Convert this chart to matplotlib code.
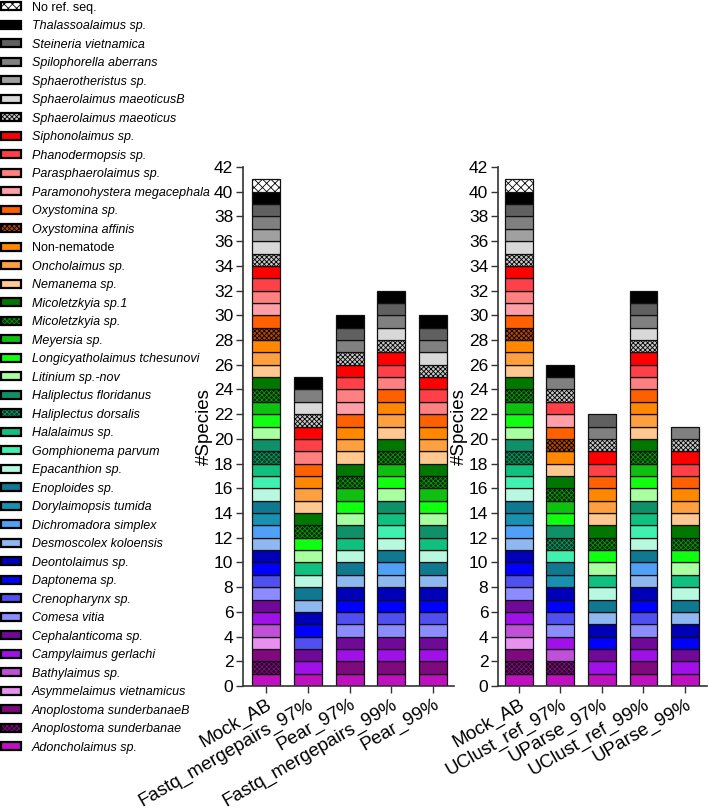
import matplotlib
matplotlib.use("Agg")
import matplotlib.pyplot as plt
from matplotlib.patches import Patch

plt.rcParams['font.family'] = ['Liberation Sans', 'DejaVu Sans']
plt.rcParams['hatch.linewidth'] = 0.6

# species, bottom of stack -> top
species = [
    "Adoncholaimus sp.", "Anoplostoma sunderbanae", "Anoplostoma sunderbanaeB",
    "Asymmelaimus vietnamicus", "Bathylaimus sp.", "Campylaimus gerlachi",
    "Cephalanticoma sp.", "Comesa vitia", "Crenopharynx sp.", "Daptonema sp.",
    "Deontolaimus sp.", "Desmoscolex koloensis", "Dichromadora simplex",
    "Dorylaimopsis tumida", "Enoploides sp.", "Epacanthion sp.",
    "Gomphionema parvum", "Halalaimus sp.", "Haliplectus dorsalis",
    "Haliplectus floridanus", "Litinium sp.-nov", "Longicyatholaimus tchesunovi",
    "Meyersia sp.", "Micoletzkyia sp.", "Micoletzkyia sp.1", "Nemanema sp.",
    "Oncholaimus sp.", "Non-nematode", "Oxystomina affinis", "Oxystomina sp.",
    "Paramonohystera megacephala", "Parasphaerolaimus sp.", "Phanodermopsis sp.",
    "Siphonolaimus sp.", "Sphaerolaimus maeoticus", "Sphaerolaimus maeoticusB",
    "Sphaerotheristus sp.", "Spilophorella aberrans", "Steineria vietnamica",
    "Thalassoalaimus sp.", "No ref. seq.",
]
colors = [
    "#C010C0", "#2A002A", "#7E0A7E", "#E890F0", "#C050D8", "#A010E8",
    "#700898", "#8C8CFF", "#5050F0", "#0000FF", "#0000B8", "#90B8F0",
    "#50A0F8", "#1890B0", "#107890", "#B8F8E0", "#40F0B0", "#10C080",
    "#003820", "#109068", "#A8FFA0", "#10FF10", "#10C010", "#002800",
    "#007800", "#FFC890", "#FFA040", "#FF8800", "#B84800", "#FF6000",
    "#FFA0A8", "#FF8080", "#FF4048", "#FF0000", "#C8C8C8", "#D8D8D8",
    "#A0A0A0", "#808080", "#606060", "#000000", "#FFFFFF",
]
# hatched species: index -> (hatch, hatch colour)
hatched = {
    1: ("xxxxxxx", "#7A107A"),
    18: ("xxxxxxx", "#10905F"),
    23: ("xxxxxxx", "#109010"),
    28: ("xxxxxxx", "#000000"),
    34: ("xxxxxxx", "#000000"),
    40: ("xxxx", "#000000"),
}
non_italic = {"No ref. seq.", "Non-nematode"}

mock_ab = list(range(41))
fastq_97 = [0, 5, 6, 8, 9, 10, 11, 14, 15, 17, 20, 21, 23, 24, 25, 26, 27, 29, 31, 32, 33, 34, 35, 37, 39]
pear_97 = [0, 2, 5, 6, 7, 8, 9, 10, 11, 14, 15, 17, 19, 20, 21, 22, 23, 24, 25, 26, 27, 29, 30, 31, 32, 33, 34, 37, 38, 39]
fastq_99 = [0, 2, 5, 6, 7, 8, 9, 10, 11, 12, 14, 15, 16, 17, 19, 20, 21, 22, 23, 24, 25, 26, 27, 29, 31, 32, 33, 34, 35, 37, 38, 39]
pear_99 = [0, 2, 5, 6, 7, 8, 9, 10, 11, 14, 15, 17, 19, 20, 21, 22, 23, 24, 25, 26, 27, 29, 31, 32, 33, 34, 35, 37, 38, 39]
uclust_97 = [0, 1, 4, 5, 7, 8, 9, 10, 13, 14, 16, 18, 19, 21, 22, 23, 24, 25, 27, 28, 29, 30, 32, 34, 37, 39]
uparse_97 = [0, 5, 6, 9, 10, 11, 14, 15, 17, 20, 21, 23, 24, 25, 26, 27, 29, 32, 33, 34, 37, 38]
uclust_99 = [0, 2, 5, 6, 7, 8, 9, 10, 11, 12, 14, 15, 16, 17, 19, 20, 21, 22, 23, 24, 25, 26, 27, 29, 31, 32, 33, 34, 35, 37, 38, 39]
uparse_99 = [0, 5, 6, 9, 10, 11, 14, 15, 17, 20, 21, 23, 24, 25, 26, 27, 29, 32, 33, 34, 37]

left_labels = ["Mock_AB", "Fastq_mergepairs_97%", "Pear_97%", "Fastq_mergepairs_99%", "Pear_99%"]
left_data = [mock_ab, fastq_97, pear_97, fastq_99, pear_99]
right_labels = ["Mock_AB", "UClust_ref_97%", "UParse_97%", "UClust_ref_99%", "UParse_99%"]
right_data = [mock_ab, uclust_97, uparse_97, uclust_99, uparse_99]
yticks = list(range(0, 43, 2))

W, H = 709, 809
fig = plt.figure(figsize=(W / 100, H / 100), dpi=100)
axL = fig.add_axes([243 / W, 123 / H, 211 / W, 519 / H])
axR = fig.add_axes([498 / W, 123 / H, 209 / W, 519 / H])


def draw(ax, labels, data, xlim):
    bw = 0.67
    for i, present in enumerate(data):
        bottom = 0
        for idx in present:
            if idx in hatched:
                h, hc = hatched[idx]
                ax.bar(i, 1, bottom=bottom, width=bw, color=colors[idx], hatch=h,
                       edgecolor=hc, linewidth=0)
                ax.bar(i, 1, bottom=bottom, width=bw, fill=False,
                       edgecolor="#111111", linewidth=0.9)
            else:
                ax.bar(i, 1, bottom=bottom, width=bw, color=colors[idx],
                       edgecolor="#111111", linewidth=0.9)
            bottom += 1
    ax.set_xlim(*xlim)
    ax.set_ylim(0, 42)
    ax.set_yticks(yticks)
    ax.set_yticklabels([str(t) for t in yticks], fontsize=12.5)
    ax.set_xticks(range(len(labels)))
    ax.set_xticklabels(labels, rotation=30, ha="right", rotation_mode="anchor", fontsize=13.5)
    ax.tick_params(axis="both", direction="out", length=5, width=1, color="#333333", pad=2)
    for s in ("top", "right"):
        ax.spines[s].set_visible(False)
    for s in ("left", "bottom"):
        ax.spines[s].set_linewidth(1.2)
        ax.spines[s].set_color("#333333")
    ax.set_ylabel("#Species", fontsize=13.5, labelpad=1)


draw(axL, left_labels, left_data, (-0.55, 4.5))
draw(axR, right_labels, right_data, (-0.5, 4.53))

handles, names = [], []
for idx in reversed(range(len(species))):
    if idx in hatched:
        h, hc = hatched[idx]
        hd = (Patch(facecolor=colors[idx], edgecolor=hc, hatch=h, linewidth=0),
              Patch(fill=False, edgecolor="black", linewidth=1.6))
    else:
        hd = Patch(facecolor=colors[idx], edgecolor="black", linewidth=1.6)
    handles.append(hd)
    names.append(species[idx])

leg = fig.legend(handles, names, loc="upper left", bbox_to_anchor=(0.002, 0.998),
                 bbox_transform=fig.transFigure, frameon=False, fontsize=9,
                 handlelength=1.6, handleheight=0.6, handletextpad=0.85,
                 labelspacing=0.52, borderaxespad=0, borderpad=0)
for t in leg.get_texts():
    if t.get_text() not in non_italic:
        t.set_fontstyle("italic")

fig.savefig("out.png", dpi=100)
